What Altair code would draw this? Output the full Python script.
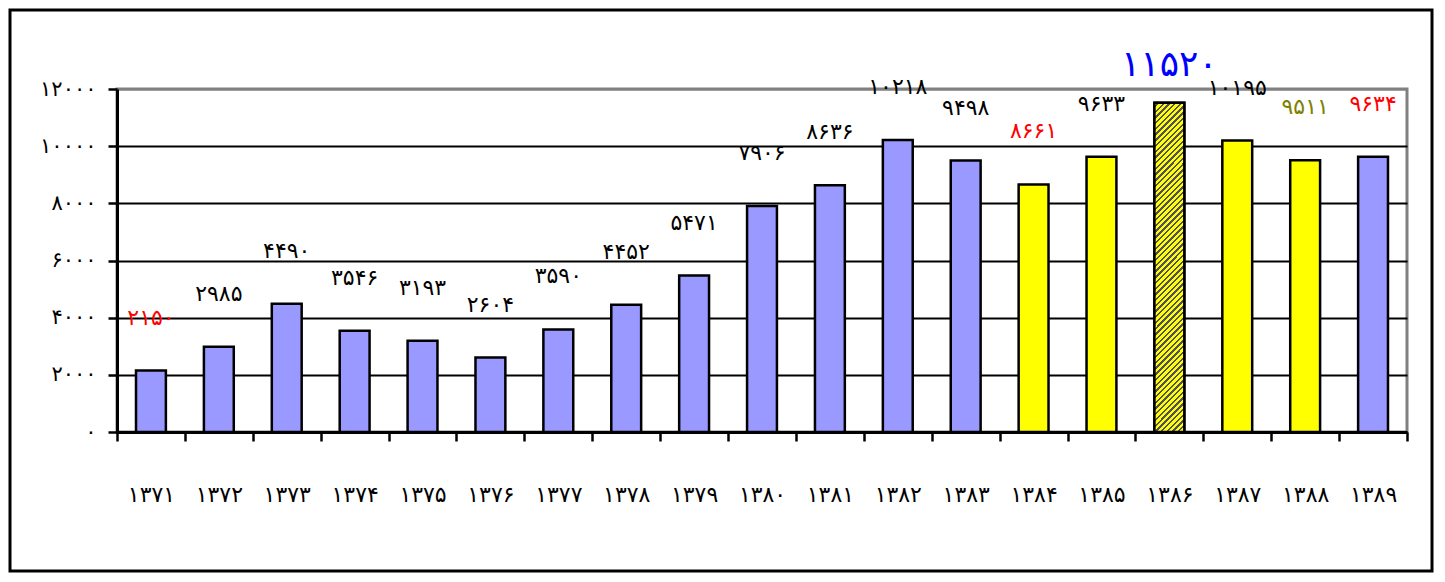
import altair as alt
import pandas as pd

# ---- data ----
years = [1371, 1372, 1373, 1374, 1375, 1376, 1377, 1378, 1379, 1380,
         1381, 1382, 1383, 1384, 1385, 1386, 1387, 1388, 1389]
values = [2150, 2985, 4490, 3546, 3193, 2604, 3590, 4452, 5471, 7906,
          8636, 10218, 9498, 8661, 9633, 11520, 10195, 9511, 9634]
y_ticks = [0, 2000, 4000, 6000, 8000, 10000, 12000]
peak_year = 1386

FA = "۰۱۲۳۴۵۶۷۸۹"


def fa(n):
    return "".join(FA[int(c)] for c in str(n))


years_fa = [fa(y) for y in years]
df = pd.DataFrame({
    "year": years,
    "year_fa": years_fa,
    "value": values,
    "label": [fa(v) for v in values],
})

# ---- styles ----
LAV = "#9999FF"
YEL = "#FFFF00"
bar_fill = {1384: YEL, 1385: YEL, 1386: YEL, 1387: YEL, 1388: YEL}
label_color = {1371: "#FF0000", 1384: "#FF0000", 1389: "#FF0000",
               1386: "#0000FF", 1388: "#808000"}
FONT = "DejaVu Sans"

W, H = 1290, 343

x_enc = alt.X(
    "year_fa:N", sort=years_fa,
    scale=alt.Scale(paddingInner=0, paddingOuter=0),
    axis=alt.Axis(title=None, labelAngle=0, tickBand="extent", tickSize=9,
                  tickWidth=2.5, domainWidth=3, labelFontSize=22,
                  labelPadding=43, labelFont=FONT, grid=False),
)

ylab = "datum.label"
for i, d in enumerate(FA):
    ylab = f"join(split({ylab}, '{i}'), '{d}')"

y_enc = alt.Y(
    "value:Q",
    scale=alt.Scale(domain=[0, 12000], nice=False),
    axis=alt.Axis(title=None, values=y_ticks, format="d", labelExpr=ylab,
                  tickSize=9, tickWidth=2.5, domainWidth=3,
                  labelFontSize=21, labelPadding=12, labelFont=FONT,
                  grid=True, gridWidth=2.2,
                  gridColor={"condition": {"test": "datum.value === 12000",
                                           "value": "#808080"},
                             "value": "black"}),
)

base = alt.Chart(df)

bars = base.mark_bar(stroke="black", strokeWidth=2.5,
                     width=alt.RelativeBandSize(0.44)).encode(
    x=x_enc, y=y_enc,
    fill=alt.Fill("year_fa:N",
                  scale=alt.Scale(domain=years_fa,
                                  range=[bar_fill.get(y, LAV) for y in years]),
                  legend=None),
)

# hatched (diagonal stripes) fill for the peak year
n_per = 64
dark_frac = 0.42
DARK = "#50506a"
stops = []
for k in range(n_per):
    a = k / n_per
    m = (k + 1 - dark_frac) / n_per
    b = (k + 1) / n_per
    stops += [alt.GradientStop(color=YEL, offset=a),
              alt.GradientStop(color=YEL, offset=m),
              alt.GradientStop(color=DARK, offset=m),
              alt.GradientStop(color=DARK, offset=min(b, 1.0))]
hatch_grad = alt.LinearGradient(gradient="linear", stops=stops,
                                x1=0, y1=0, x2=0.1, y2=1.1)

hatch = base.transform_filter(f"datum.year === {peak_year}").mark_bar(
    stroke="black", strokeWidth=2.5, width=alt.RelativeBandSize(0.44),
    fill=hatch_grad,
).encode(x=x_enc, y=y_enc)

txt_color = alt.Color(
    "year_fa:N",
    scale=alt.Scale(domain=years_fa,
                    range=[label_color.get(y, "black") for y in years]),
    legend=None,
)

labels = base.transform_filter(f"datum.year !== {peak_year}").mark_text(
    font=FONT, fontSize=22, dy=-53, baseline="middle", align="center",
).encode(x=x_enc, y=y_enc, text="label:N", color=txt_color)

big_label = base.transform_filter(f"datum.year === {peak_year}").mark_text(
    font=FONT, fontSize=36, dy=-38, baseline="middle", align="center",
).encode(x=x_enc, y=y_enc, text="label:N", color=txt_color)

frame = alt.Chart(alt.Data(values=[{}])).mark_rect(
    fillOpacity=0, stroke="black", strokeWidth=3,
).encode(x=alt.value(-107), x2=alt.value(1315),
         y=alt.value(-79), y2=alt.value(482))

chart = alt.layer(frame, bars, hatch, labels, big_label).resolve_scale(
    color="independent", fill="independent"
).properties(
    width=W, height=H,
    autosize=alt.AutoSizeParams(type="none"),
    padding={"left": 109, "top": 81, "right": 28, "bottom": 141},
    background="white",
).configure_view(
    stroke="#808080", strokeWidth=3,
).configure_axis(
    domainColor="black", tickColor="black", labelColor="black",
)

chart.save("out.html", embed_options={"renderer": "svg", "actions": False})
